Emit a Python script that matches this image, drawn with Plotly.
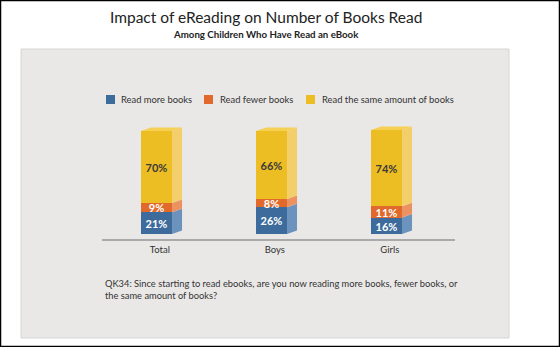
import plotly.graph_objects as go

categories = ["Total", "Boys", "Girls"]
series_names = ["Read more books", "Read fewer books", "Read the same amount of books"]
more = [21, 26, 16]
fewer = [9, 8, 11]
same = [70, 66, 74]

front_colors = ["#3d6c9c", "#e0692b", "#edbd24"]
side_colors = ["#6b93bd", "#ec9262", "#f3cf6c"]
top_color = "#f6cf55"
text_colors = ["white", "white", "#3a3a3a"]

W, H = 560, 347
L, R, T, B = 102, 105, 100, 108
PW, PH = W - L - R, H - T - B

def px(x):
    return (x - L) / PW

def py(y):
    return (H - B - y) / PH

W_BAR = 0.27
DX = 0.087
DY = 3.4

idx = list(range(len(categories)))
values = [more, fewer, same]

fig = go.Figure()
bases = [0] * len(categories)
side_traces = []
for s, vals in enumerate(values):
    fig.add_trace(go.Bar(
        x=idx, y=vals, width=W_BAR, name=series_names[s],
        marker=dict(color=front_colors[s], line=dict(width=0)),
        text=[f"{v}%" for v in vals], textposition="inside",
        insidetextanchor="middle", constraintext="none", textangle=0,
        textfont=dict(family="Lato", size=11, color=text_colors[s], weight="bold"),
        showlegend=False, hoverinfo="skip",
    ))
    xs, ys = [], []
    for i, v in enumerate(vals):
        b0 = bases[i]
        t0 = b0 + v
        xr = i + W_BAR / 2
        xs += [xr, xr + DX, xr + DX, xr, xr, None]
        ys += [b0, b0 + DY, t0 + DY, t0, b0, None]
        bases[i] = t0
    side_traces.append(go.Scatter(
        x=xs, y=ys, mode="lines", fill="toself", fillcolor=side_colors[s],
        line=dict(width=0, color=side_colors[s]), showlegend=False, hoverinfo="skip",
    ))
for tr in side_traces:
    fig.add_trace(tr)

# top faces
xs, ys = [], []
for i in idx:
    t0 = bases[i]
    xl, xr = i - W_BAR / 2, i + W_BAR / 2
    xs += [xl, xr, xr + DX, xl + DX, xl, None]
    ys += [t0, t0, t0 + DY, t0 + DY, t0, None]
fig.add_trace(go.Scatter(
    x=xs, y=ys, mode="lines", fill="toself", fillcolor=top_color,
    line=dict(width=0, color=top_color), showlegend=False, hoverinfo="skip",
))

shapes = [
    dict(type="rect", xref="paper", yref="paper", x0=px(0.5), x1=px(559.5), y0=py(346.5), y1=py(0.5),
         line=dict(color="black", width=1.5), fillcolor="white", layer="below"),
    dict(type="rect", xref="paper", yref="paper", x0=px(21), x1=px(509), y0=py(338), y1=py(49),
         line=dict(color="#d6d6d6", width=1), fillcolor="#e9e8e6", layer="below"),
]
annotations = [
    dict(text="Impact of eReading on Number of Books Read", x=px(266), y=py(17), xref="paper", yref="paper",
         showarrow=False, xanchor="center", yanchor="middle",
         font=dict(family="Lato", size=15.5, color="#222")),
    dict(text="<b>Among Children Who Have Read an eBook</b>", x=px(266), y=py(34), xref="paper", yref="paper",
         showarrow=False, xanchor="center", yanchor="middle",
         font=dict(family="Lato", size=9.7, color="#222")),
    dict(text="QK34: Since starting to read ebooks, are you now reading more books, fewer books, or<br>the same amount of books?",
         x=px(103), y=py(276), xref="paper", yref="paper", showarrow=False, xanchor="left", yanchor="top",
         align="left", font=dict(family="Lato", size=9.3, color="#333")),
]
# manual legend
leg_sq = [106, 204, 306]
leg_tx = [119, 218, 320]
for s in range(3):
    shapes.append(dict(type="rect", xref="paper", yref="paper", x0=px(leg_sq[s]), x1=px(leg_sq[s] + 9),
                       y0=py(104), y1=py(95), line=dict(width=0), fillcolor=front_colors[s]))
    annotations.append(dict(text=series_names[s], x=px(leg_tx[s]), y=py(99.5), xref="paper", yref="paper",
                            showarrow=False, xanchor="left", yanchor="middle",
                            font=dict(family="Lato", size=9.4, color="#333")))

fig.update_layout(
    width=W, height=H, margin=dict(l=L, r=R, t=T, b=B),
    paper_bgcolor="white", plot_bgcolor="rgba(0,0,0,0)",
    barmode="stack", bargap=0, showlegend=False,
    shapes=shapes, annotations=annotations,
    xaxis=dict(range=[(102 - 156.5) / 115, (455 - 156.5) / 115], tickvals=[i + DX / 3 for i in idx],
               ticktext=categories, showline=True, linecolor="#aaaaaa", linewidth=2,
               showgrid=False, zeroline=False, ticks="", ticklabelstandoff=1,
               tickfont=dict(family="Lato", size=9.5, color="#333"), fixedrange=True),
    yaxis=dict(range=[-5 / 1.03, (234 - 100) / 1.03], visible=False, showgrid=False, zeroline=False,
               fixedrange=True),
)

fig.write_html("out.html")
